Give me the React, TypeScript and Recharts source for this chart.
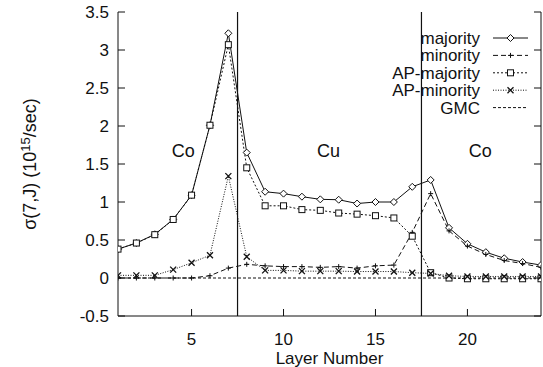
import React from 'react';
import { LineChart, Line, XAxis, YAxis, ReferenceLine, ReferenceDot, Legend } from 'recharts';

const layers = [1, 2, 3, 4, 5, 6, 7, 8, 9, 10, 11, 12, 13, 14, 15, 16, 17, 18, 19, 20, 21, 22, 23, 24];
const majority = [0.38, 0.46, 0.575, 0.77, 1.09, 2.01, 3.22, 1.65, 1.135, 1.11, 1.07, 1.035, 1.03, 0.98, 1.0, 1.0, 1.2, 1.29, 0.66, 0.45, 0.34, 0.26, 0.21, 0.17];
const minority = [0.0, 0.0, 0.0, 0.0, 0.0, 0.03, 0.13, 0.18, 0.16, 0.15, 0.15, 0.14, 0.15, 0.13, 0.16, 0.17, 0.6, 1.11, 0.62, 0.42, 0.31, 0.23, 0.19, 0.14];
const apMajority = [0.38, 0.46, 0.57, 0.77, 1.09, 2.01, 3.07, 1.45, 0.95, 0.95, 0.9, 0.89, 0.855, 0.84, 0.82, 0.79, 0.55, 0.07, 0.0, -0.01, -0.01, -0.01, -0.01, -0.01];
const apMinority = [0.035, 0.035, 0.035, 0.11, 0.2, 0.3, 1.34, 0.28, 0.1, 0.1, 0.09, 0.09, 0.09, 0.085, 0.085, 0.085, 0.07, 0.06, 0.03, 0.02, 0.02, 0.02, 0.02, 0.02];
const gmc = [0, 0, 0, 0, 0, 0, 0, 0, 0, 0, 0, 0, 0, 0, 0, 0, 0, 0, 0, 0, 0, 0, 0, 0];

const xTicks = [5, 10, 15, 20];
const yTicks = [-0.5, 0, 0.5, 1, 1.5, 2, 2.5, 3, 3.5];
const boundaries = [7.5, 17.5];
const regions = [
  { x: 4.55, y: 1.67, text: 'Co' },
  { x: 12.45, y: 1.67, text: 'Cu' },
  { x: 20.7, y: 1.67, text: 'Co' },
];

const INK = '#111';
const FONT = '"Liberation Sans", Arial, Helvetica, sans-serif';

const data = layers.map((x, i) => ({
  x,
  majority: majority[i],
  minority: minority[i],
  apMajority: apMajority[i],
  apMinority: apMinority[i],
  gmc: gmc[i],
}));

// marker shapes
const marker = (shape: string, cx: number, cy: number, key?: any) => {
  if (cx == null || cy == null) return <g key={key} />;
  if (shape === 'diamond')
    return <polygon key={key} points={`${cx},${cy - 3.5} ${cx + 3.5},${cy} ${cx},${cy + 3.5} ${cx - 3.5},${cy}`} fill="#fff" stroke={INK} strokeWidth={1} />;
  if (shape === 'square')
    return <rect key={key} x={cx - 3} y={cy - 3} width={6} height={6} fill="#fff" stroke={INK} strokeWidth={1} />;
  if (shape === 'cross')
    return <path key={key} d={`M${cx - 3},${cy - 3}L${cx + 3},${cy + 3}M${cx - 3},${cy + 3}L${cx + 3},${cy - 3}`} stroke={INK} strokeWidth={1.3} />;
  if (shape === 'plus')
    return <path key={key} d={`M${cx - 2.5},${cy}L${cx + 2.5},${cy}M${cx},${cy - 2.5}L${cx},${cy + 2.5}`} stroke={INK} strokeWidth={1} />;
  return <g key={key} />;
};

const series = [
  { key: 'majority', name: 'majority', dash: undefined, shape: 'diamond' },
  { key: 'minority', name: 'minority', dash: '5 3', shape: 'plus' },
  { key: 'apMajority', name: 'AP-majority', dash: '2 2', shape: 'square' },
  { key: 'apMinority', name: 'AP-minority', dash: '1 1.5', shape: 'cross' },
  { key: 'gmc', name: 'GMC', dash: '3 2', shape: 'none' },
];

const BottomTick = (props: any) => {
  const { x, y, payload } = props;
  return (
    <g>
      <line x1={x} y1={y} x2={x} y2={y - 7} stroke={INK} />
      <text x={x} y={y + 29} textAnchor="middle" fontSize={17} fill={INK} fontFamily={FONT}>{payload.value}</text>
    </g>
  );
};

const TopTick = (props: any) => {
  const { x, y } = props;
  return <line x1={x} y1={y} x2={x} y2={y + 7} stroke={INK} />;
};

const LeftTick = (props: any) => {
  const { x, y, payload } = props;
  return (
    <g>
      <line x1={x} y1={y} x2={x + 7} y2={y} stroke={INK} />
      <text x={x - 9} y={y + 6} textAnchor="end" fontSize={17} fill={INK} fontFamily={FONT}>{payload.value}</text>
    </g>
  );
};

const RightTick = (props: any) => {
  const { x, y } = props;
  return <line x1={x} y1={y} x2={x - 7} y2={y} stroke={INK} />;
};

const YTitle = () => (
  <text transform="translate(36,164) rotate(-90)" textAnchor="middle" fontSize={18} fill={INK} fontFamily={FONT}>
    σ(7,J) (10<tspan dy={-6} fontSize={13}>15</tspan><tspan dy={6}>/sec)</tspan>
  </text>
);

const LegendBox = () => (
  <svg width={170} height={95} style={{ overflow: 'visible' }}>
    {series.map((s, i) => {
      const y = 10 + i * 17.4;
      return (
        <g key={s.key}>
          <text x={100} y={y + 6} textAnchor="end" fontSize={17} fill={INK} fontFamily={FONT}>{s.name}</text>
          <line x1={113} y1={y} x2={148} y2={y} stroke={INK} strokeDasharray={s.dash} />
          {marker(s.shape, 130.5, y)}
        </g>
      );
    })}
  </svg>
);

export default function App() {
  return (
    <div style={{ position: 'absolute', left: 0, top: 0, background: '#fff' }}>
      <LineChart width={543} height={367} data={data} margin={{ top: 12, right: 0, left: 0, bottom: 0 }}>
        <XAxis xAxisId="b" dataKey="x" type="number" domain={[1, 24]} ticks={xTicks} allowDataOverflow
          height={51} tickSize={0} tickMargin={0} tick={<BottomTick />} axisLine={{ stroke: INK }}
          label={{ value: 'Layer Number', position: 'insideBottom', offset: 3, fontSize: 17, fill: INK, fontFamily: FONT }} />
        <XAxis xAxisId="t" orientation="top" dataKey="x" type="number" domain={[1, 24]} ticks={xTicks} allowDataOverflow
          height={0} tickSize={0} tickMargin={0} tick={<TopTick />} axisLine={{ stroke: INK }} />
        <YAxis yAxisId="l" type="number" domain={[-0.5, 3.5]} ticks={yTicks} allowDataOverflow
          width={118} tickSize={0} tickMargin={0} tick={<LeftTick />} axisLine={{ stroke: INK }}
          label={{ content: <YTitle /> }} />
        <YAxis yAxisId="r" orientation="right" type="number" domain={[-0.5, 3.5]} ticks={yTicks} allowDataOverflow
          width={2} tickSize={0} tickMargin={0} tick={<RightTick />} axisLine={{ stroke: INK }} />
        {boundaries.map((b) => (
          <ReferenceLine key={b} x={b} xAxisId="b" yAxisId="l" stroke={INK} strokeWidth={1.2} />
        ))}
        {regions.map((r, i) => (
          <ReferenceDot key={i} x={r.x} y={r.y} xAxisId="b" yAxisId="l" r={0} stroke="none" fill="none"
            label={{ value: r.text, position: 'center', fontSize: 18, fill: INK, fontFamily: FONT }} />
        ))}
        {series.map((s) => (
          <Line key={s.key} xAxisId="b" yAxisId="l" dataKey={s.key} name={s.name} type="linear"
            stroke={INK} strokeWidth={1} strokeDasharray={s.dash} isAnimationActive={false}
            dot={(p: any) => marker(s.shape, p.cx, p.cy, p.index)} activeDot={false} />
        ))}
        <Legend layout="vertical" align="center" verticalAlign="middle" content={<LegendBox />}
          wrapperStyle={{ position: 'absolute', left: 380, top: 28, width: 170, height: 95 }} />
      </LineChart>
    </div>
  );
}
